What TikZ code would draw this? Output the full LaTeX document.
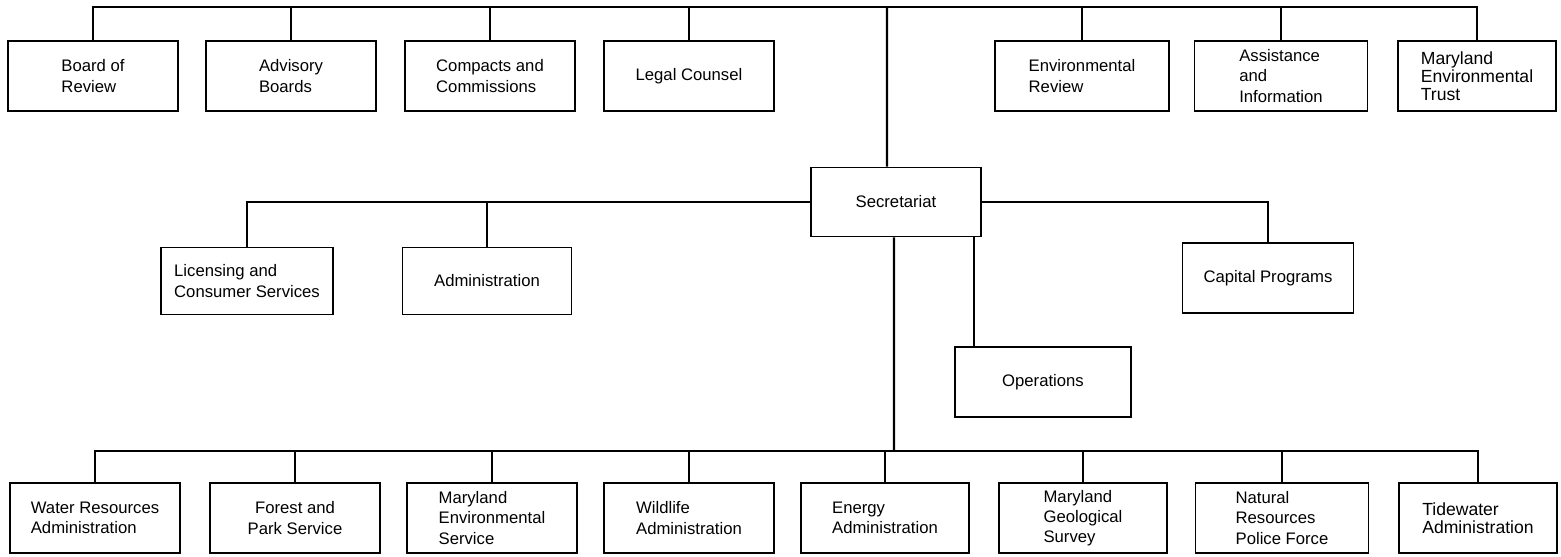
\documentclass[tikz,border=0pt]{standalone}
\usepackage{fontspec}
\setmainfont{Liberation Sans}

\begin{document}
\begin{tikzpicture}[x=0.02cm,y=-0.02cm,
 box/.style={draw,line width=0.9pt,minimum width=3.4cm,minimum height=1.4cm,align=left,inner sep=2pt,font=\fontsize{9.5}{11.5}\selectfont},
 bigbox/.style={box,minimum width=3.16cm,font=\fontsize{10}{10.2}\selectfont},
 lnk/.style={line width=1.4pt}]
\useasboundingbox (0,0) rectangle (1561,556);
% top row
\node[box] (t1) at (93,76) {Board of\\Review};
\node[box] (t2) at (291,76) {Advisory\\Boards};
\node[box] (t3) at (490,76) {Compacts and\\Commissions};
\node[box] (t4) at (689,76) {Legal Counsel};
\node[box,minimum width=3.48cm] (t5) at (1082,76) {Environmental\\Review};
\node[box,minimum width=3.46cm] (t6) at (1281,76) {Assistance\\and\\Information};
\node[bigbox] (t7) at (1477,76) {Maryland\\Environmental\\Trust};
% middle
\node[box,minimum width=3.44cm,minimum height=1.34cm] (lic) at (247,281) {Licensing and\\Consumer Services};
\node[box,minimum width=3.38cm,minimum height=1.34cm] (adm) at (487,281) {Administration};
\node[box,minimum height=1.38cm] (sec) at (896,202) {Secretariat};
\node[box,minimum width=3.42cm] (cap) at (1268,278) {Capital Programs};
\node[box,minimum width=3.52cm] (ops) at (1043,382) {Operations};
% bottom row
\node[box] (b1) at (95,518) {Water Resources\\Administration};
\node[box,align=center] (b2) at (295,518) {Forest and\\Park Service};
\node[box] (b3) at (492,518) {Maryland\\Environmental\\Service};
\node[box] (b4) at (689,518) {Wildlife\\Administration};
\node[box,minimum width=3.36cm] (b5) at (885,518) {Energy\\Administration};
\node[box,minimum width=3.36cm] (b6) at (1083,518) {Maryland\\Geological\\Survey};
\node[box,minimum width=3.46cm] (b7) at (1282,518) {Natural\\Resources\\Police Force};
\node[bigbox] (b8) at (1478,518) {Tidewater\\Administration};
% connectors
\coordinate (topbus) at (887,7);
\coordinate (botbus) at (894,451);
\draw[lnk] (t1.north) |- (topbus) -| (t7.north);
\foreach \n in {t2,t3,t4,t5,t6}
  \draw[lnk] (\n.north) -- (\n.north |- topbus);
\draw[lnk] ([xshift=-0.18cm]sec.north) -- (topbus);
\draw[lnk] (sec.west) -| (lic.north);
\draw[lnk] (adm.north) -- (adm.north |- sec.west);
\draw[lnk] (sec.east) -| (cap.north);
\draw[lnk] ([xshift=0.4cm]ops.north west) -- ([xshift=0.4cm]ops.north west |- sec.south);
\draw[lnk] (b1.north) |- (botbus) -| (b8.north);
\foreach \n in {b2,b3,b4,b5,b6,b7}
  \draw[lnk] (\n.north) -- (\n.north |- botbus);
\draw[lnk] ([xshift=-0.04cm]sec.south) -- (botbus);
\end{tikzpicture}
\end{document}
